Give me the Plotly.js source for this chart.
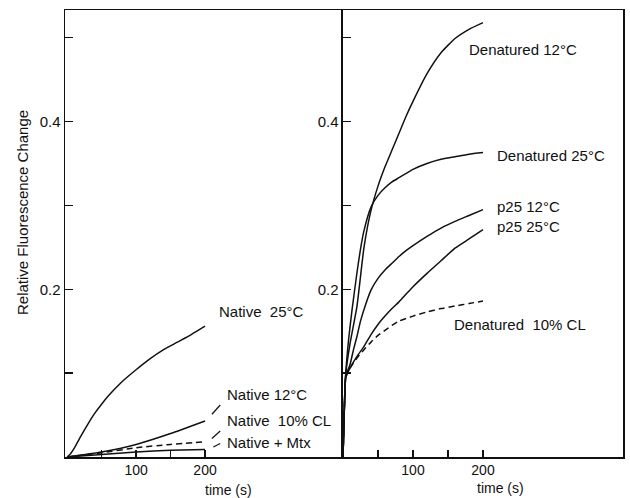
<!DOCTYPE html>
<html>
<head>
<meta charset="utf-8">
<script src="https://cdn.plot.ly/plotly-3.0.1.min.js"></script>
<style>html,body{margin:0;padding:0;background:#fff;}#chart{width:630px;height:498px;}</style>
</head>
<body>
<div id="chart"></div>
<script>
// ---- Left panel (native) ----
const n25_t = [0, 5, 10, 20, 30, 40, 50, 60, 80, 100, 120, 140, 160, 180, 200];
const n25_y = [0, 0.004, 0.01, 0.025, 0.039, 0.052, 0.063, 0.073, 0.09, 0.104, 0.117, 0.128, 0.137, 0.146, 0.156];
const n12_t = [0, 50, 100, 150, 200];
const n12_y = [0, 0.006, 0.015, 0.028, 0.043];
const ncl_t = [0, 50, 100, 150, 200];
const ncl_y = [0, 0.005, 0.011, 0.015, 0.018];
const nmtx_t = [0, 50, 100, 150, 200];
const nmtx_y = [0, 0.003, 0.006, 0.008, 0.009];

// ---- Right panel (denatured / p25) ----
const d12_t = [0, 2, 4, 10, 20, 30, 40, 50, 60, 70, 80, 90, 100, 120, 140, 160, 180, 200];
const d12_y = [0, 0.06, 0.1, 0.135, 0.18, 0.25, 0.294, 0.323, 0.346, 0.366, 0.386, 0.406, 0.424, 0.457, 0.482, 0.499, 0.51, 0.518];
const d25_t = [0, 2, 4, 8, 13, 20, 25, 30, 40, 50, 60, 70, 80, 100, 120, 140, 160, 180, 200];
const d25_y = [0, 0.06, 0.1, 0.14, 0.176, 0.22, 0.248, 0.27, 0.298, 0.312, 0.321, 0.328, 0.333, 0.343, 0.35, 0.355, 0.358, 0.361, 0.363];
const p12_t = [0, 2, 4, 10, 15, 20, 25, 30, 40, 50, 60, 70, 80, 90, 100, 120, 140, 160, 180, 200];
const p12_y = [0, 0.06, 0.097, 0.11, 0.128, 0.144, 0.162, 0.176, 0.199, 0.213, 0.223, 0.231, 0.239, 0.246, 0.252, 0.263, 0.273, 0.281, 0.288, 0.295];
const p25_t = [0, 2, 4, 10, 20, 30, 40, 50, 60, 70, 80, 90, 100, 120, 140, 160, 180, 200];
const p25_y = [0, 0.06, 0.095, 0.106, 0.12, 0.132, 0.146, 0.158, 0.168, 0.177, 0.185, 0.194, 0.203, 0.219, 0.234, 0.249, 0.26, 0.271];
const dcl_t = [0, 2, 4, 10, 20, 30, 40, 50, 60, 70, 80, 100, 120, 140, 160, 180, 200];
const dcl_y = [0, 0.06, 0.095, 0.106, 0.118, 0.128, 0.137, 0.145, 0.151, 0.157, 0.162, 0.168, 0.173, 0.177, 0.18, 0.183, 0.186];

const xTickVals = [100, 200];
const xTickText = ['100', '200'];
const xMinorVals = [50, 150];
const yTickVals = [0.2, 0.4];
const yTickText = ['0.2', '0.4'];
const yMinorVals = [0.1, 0.3, 0.5];

const ink = '#111';
const FONT = 'Liberation Sans, Arial, Helvetica, sans-serif';

function line(t, y, xa, ya, dash) {
  return {x: t, y: y, xaxis: xa, yaxis: ya, type: 'scatter', mode: 'lines',
          line: {color: ink, width: 1.5, dash: dash || 'solid', shape: 'spline', smoothing: 0.5},
          hoverinfo: 'skip', showlegend: false};
}

const data = [
  line(n25_t, n25_y, 'x', 'y'),
  line(n12_t, n12_y, 'x', 'y'),
  line(ncl_t, ncl_y, 'x', 'y', '6px,4px'),
  line(nmtx_t, nmtx_y, 'x', 'y'),
  line(d12_t, d12_y, 'x2', 'y2'),
  line(d25_t, d25_y, 'x2', 'y2'),
  line(p12_t, p12_y, 'x2', 'y2'),
  line(p25_t, p25_y, 'x2', 'y2'),
  line(dcl_t, dcl_y, 'x2', 'y2', '6px,4px')
];

const xBase = {showgrid: false, zeroline: false, showline: true, mirror: true, linecolor: ink, linewidth: 1.5,
  ticks: 'inside', ticklen: 7, tickwidth: 1.5, tickcolor: ink, tickmode: 'array', tickvals: xTickVals, ticktext: xTickText,
  minor: {tickmode: 'array', tickvals: xMinorVals, ticks: 'inside', ticklen: 7, tickwidth: 1.5, tickcolor: ink, showgrid: false},
  tickfont: {family: FONT, size: 14, color: ink}, fixedrange: true};
const yBase = {showgrid: false, zeroline: false, showline: true, linecolor: ink, linewidth: 1.5,
  ticks: 'inside', ticklen: 8, tickwidth: 1.5, tickcolor: ink, tickmode: 'array', tickvals: yTickVals, ticktext: yTickText,
  minor: {tickmode: 'array', tickvals: yMinorVals, ticks: 'inside', ticklen: 8, tickwidth: 1.5, tickcolor: ink, showgrid: false},
  range: [0, 0.533], tickfont: {family: FONT, size: 15, color: ink}, fixedrange: true};

function ann(text, x, y, xr, yr) {
  return {text: text, x: x, y: y, xref: xr, yref: yr, xanchor: 'left', yanchor: 'middle',
          showarrow: false, font: {family: FONT, size: 15, color: ink}};
}

const layout = {
  width: 630, height: 498,
  margin: {l: 65, r: 7, t: 10, b: 41},
  paper_bgcolor: '#fff', plot_bgcolor: '#fff',
  showlegend: false,
  xaxis: Object.assign({}, xBase, {domain: [0, 0.4982], range: [-3, 400], anchor: 'y'}),
  yaxis: Object.assign({}, yBase, {anchor: 'x', mirror: false}),
  xaxis2: Object.assign({}, xBase, {domain: [0.4982, 1], range: [0, 400], anchor: 'y2'}),
  yaxis2: Object.assign({}, yBase, {anchor: 'x2', mirror: true}),
  shapes: [
    {type: 'line', xref: 'x', yref: 'y', x0: 210, y0: 0.051, x1: 222, y1: 0.062, line: {color: ink, width: 1.2}},
    {type: 'line', xref: 'x', yref: 'y', x0: 210, y0: 0.022, x1: 222, y1: 0.031, line: {color: ink, width: 1.2}},
    {type: 'line', xref: 'x', yref: 'y', x0: 212, y0: 0.012, x1: 222, y1: 0.016, line: {color: ink, width: 1.2}}
  ],
  annotations: [
    ann('Native  25°C', 217, 0.173, 'x', 'y'),
    ann('Native 12°C', 229, 0.074, 'x', 'y'),
    ann('Native  10% CL', 229, 0.043, 'x', 'y'),
    ann('Native + Mtx', 229, 0.017, 'x', 'y'),
    ann('Denatured 12°C', 177, 0.486, 'x2', 'y2'),
    ann('Denatured 25°C', 217, 0.36, 'x2', 'y2'),
    ann('p25 12°C', 217, 0.299, 'x2', 'y2'),
    ann('p25 25°C', 217, 0.275, 'x2', 'y2'),
    ann('Denatured  10% CL', 156, 0.158, 'x2', 'y2'),
    {text: 'time (s)', xref: 'paper', yref: 'paper', x: (228 - 65) / 558, y: (457 - 490) / 447,
     xanchor: 'center', yanchor: 'middle', showarrow: false, font: {family: FONT, size: 14, color: ink}},
    {text: 'time (s)', xref: 'paper', yref: 'paper', x: (500 - 65) / 558, y: (457 - 488) / 447,
     xanchor: 'center', yanchor: 'middle', showarrow: false, font: {family: FONT, size: 14, color: ink}},
    {text: 'Relative Fluorescence Change', xref: 'paper', yref: 'paper', x: (22 - 65) / 558, y: (457 - 213) / 447,
     xanchor: 'center', yanchor: 'middle', textangle: -90, showarrow: false, font: {family: FONT, size: 15, color: ink}}
  ]
};

Plotly.newPlot('chart', data, layout, {staticPlot: true, displayModeBar: false});
</script>
</body>
</html>
